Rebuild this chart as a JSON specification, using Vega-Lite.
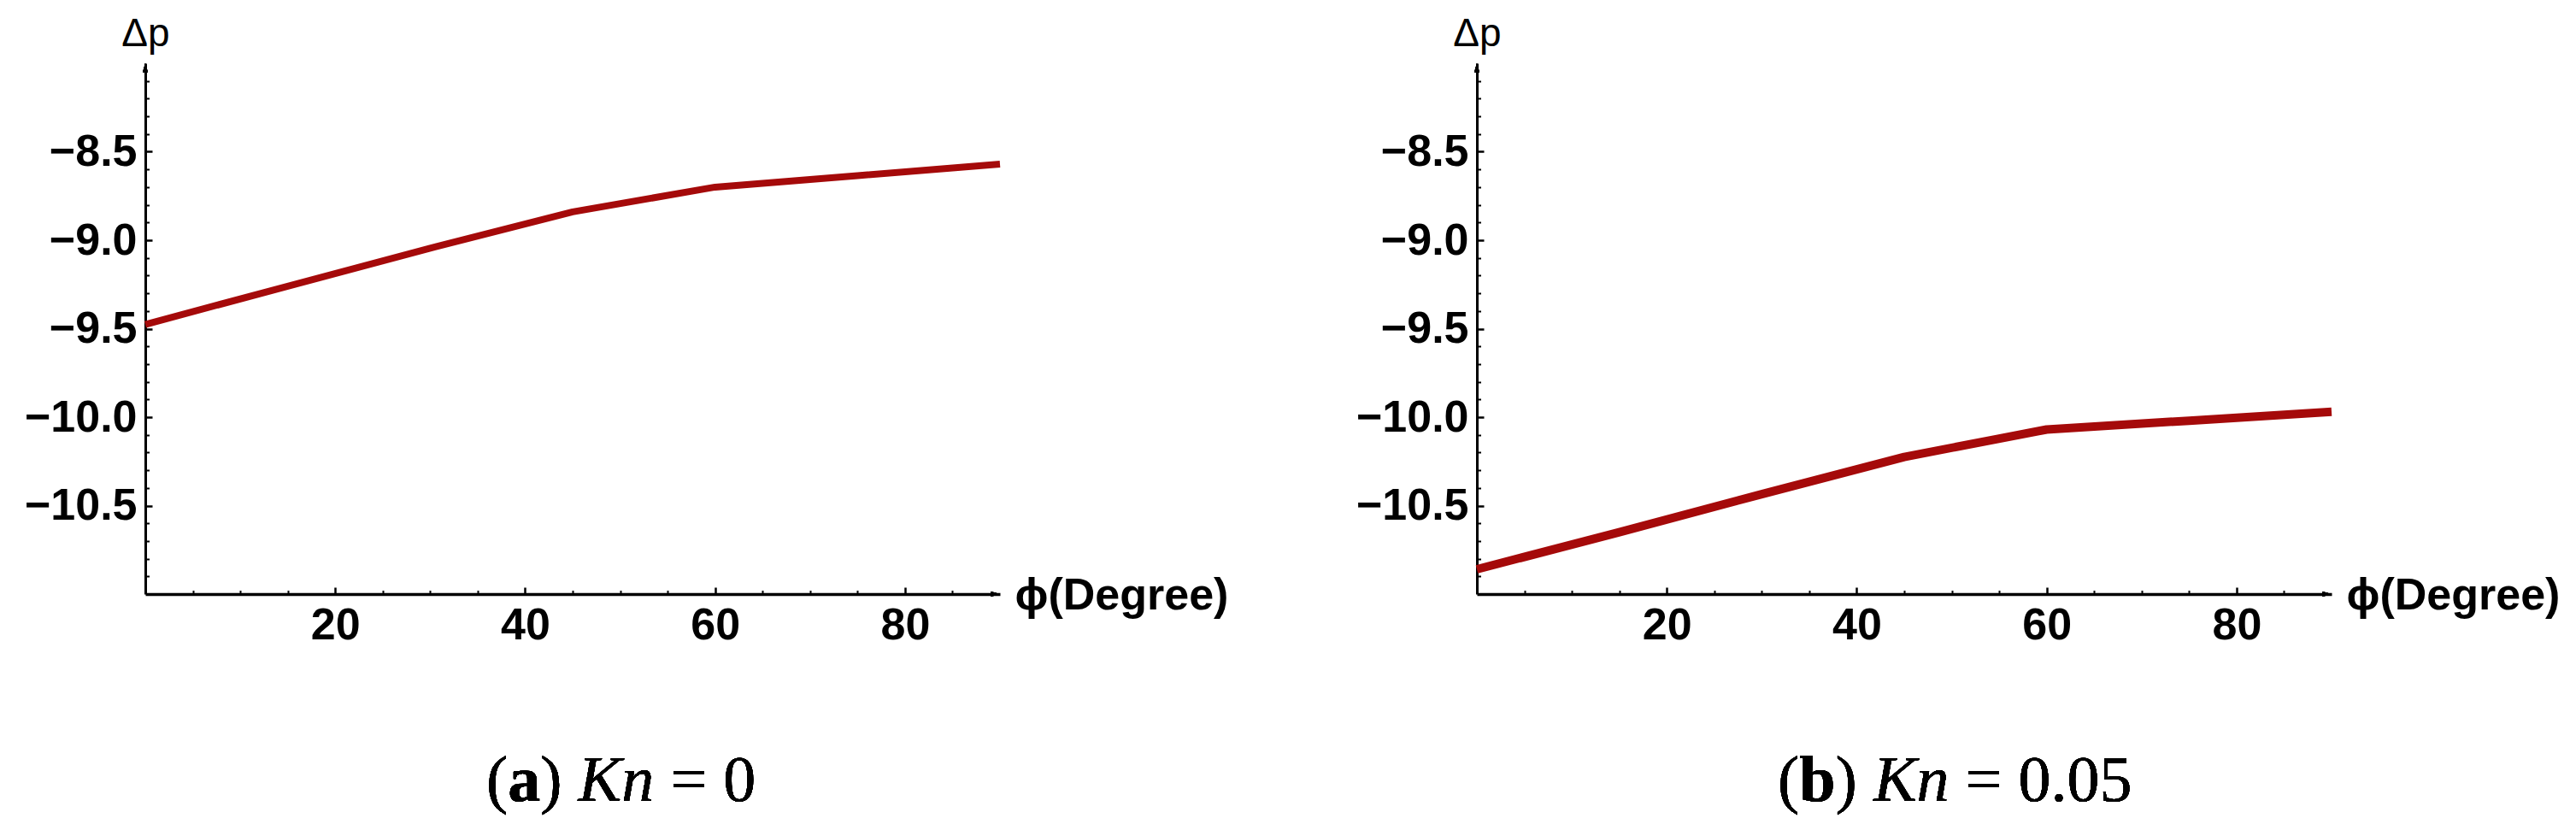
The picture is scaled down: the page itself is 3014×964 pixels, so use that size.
{
  "$schema": "https://vega.github.io/schema/vega-lite/v6.json",
  "autosize": {"type": "none"},
  "padding": {"left": 170, "top": 74, "right": 2844, "bottom": 890},
  "background": "white",
  "datasets": {
    "kn0": [
      {"phi": 0, "dp": -9.476},
      {"phi": 15, "dp": -9.26},
      {"phi": 30, "dp": -9.045},
      {"phi": 45, "dp": -8.84},
      {"phi": 60, "dp": -8.70},
      {"phi": 75, "dp": -8.635},
      {"phi": 90, "dp": -8.57}
    ],
    "kn005": [
      {"phi": 0, "dp": -10.86},
      {"phi": 15, "dp": -10.65},
      {"phi": 30, "dp": -10.435},
      {"phi": 45, "dp": -10.225},
      {"phi": 60, "dp": -10.07},
      {"phi": 75, "dp": -10.02},
      {"phi": 90, "dp": -9.97}
    ]
  },
  "spacing": 558,
  "bounds": "flush",
  "config": {
    "view": {"stroke": null},
    "axis": {
      "grid": false,
      "labelFont": "Liberation Sans",
      "labelFontWeight": "bold",
      "labelFontSize": 52,
      "labelColor": "black",
      "domainColor": "black",
      "tickColor": "black",
      "labelFlush": false,
      "labelOverlap": false,
      "titleColor": "black",
      "titleFont": "Liberation Sans"
    }
  },
  "hconcat": [
    {
      "width": 1000,
      "height": 621,
      "data": {"name": "kn0"},
      "resolve": {"axis": {"x": "independent", "y": "independent"}},
      "layer": [
        {
          "mark": {"type": "line", "color": "#a50a0a", "strokeWidth": 8, "strokeCap": "butt", "strokeJoin": "round"},
          "encoding": {
            "x": {"field": "phi", "type": "quantitative", "scale": {"domain": [0, 90], "nice": false, "zero": false},
              "axis": {"orient": "bottom", "values": [20, 40, 60, 80], "tickSize": -8, "tickWidth": 2.5, "labelPadding": 19, "domainWidth": 3.5,
                "title": "ϕ(Degree)", "titleX": 1017, "titleY": 17, "titleAlign": "left", "titleBaseline": "alphabetic", "titleAngle": 0, "titleFontWeight": "bold", "titleFontSize": 52}},
            "y": {"field": "dp", "type": "quantitative", "scale": {"domain": [-11, -8], "nice": false, "zero": false},
              "axis": {"orient": "left", "values": [-10.5, -10, -9.5, -9, -8.5], "format": ".1f", "tickSize": -8, "tickWidth": 2.5, "labelPadding": 18, "domainWidth": 3,
                "title": "Δp", "titleAngle": 0, "titleX": 0, "titleY": -21, "titleAlign": "center", "titleBaseline": "alphabetic", "titleFontWeight": "normal", "titleFontSize": 46}}
          }
        },
        {
          "mark": {"type": "point", "shape": "M0,0L0.5,1.8L-0.5,1.8Z", "size": 144, "filled": true, "fill": "black", "strokeWidth": 0, "opacity": 1},
          "encoding": {
            "x": {"datum": 0, "type": "quantitative", "scale": {"domain": [0, 90], "nice": false, "zero": false},
              "axis": {"orient": "bottom", "values": [5, 10, 15, 25, 30, 35, 45, 50, 55, 65, 70, 75, 85], "labels": false, "domain": false, "tickSize": -4.5, "tickWidth": 2, "title": null}},
            "y": {"datum": -8, "type": "quantitative", "scale": {"domain": [-11, -8], "nice": false, "zero": false},
              "axis": {"orient": "left", "values": [-10.9, -10.8, -10.7, -10.6, -10.4, -10.3, -10.2, -10.1, -9.9, -9.8, -9.7, -9.6, -9.4, -9.3, -9.2, -9.1, -8.9, -8.8, -8.7, -8.6, -8.4, -8.3, -8.2, -8.1], "labels": false, "domain": false, "tickSize": -4.5, "tickWidth": 2, "title": null}}
          }
        },
        {
          "mark": {"type": "point", "shape": "M0,0L-1.8,0.5L-1.8,-0.5Z", "size": 144, "filled": true, "fill": "black", "strokeWidth": 0, "opacity": 1},
          "encoding": {
            "x": {"datum": 90, "type": "quantitative", "axis": null},
            "y": {"datum": -11, "type": "quantitative", "axis": null}
          }
        },
        {
          "mark": {"type": "text", "text": "(", "font": "Liberation Serif", "fontSize": 76, "align": "left", "baseline": "alphabetic", "color": "black"},
          "encoding": {"x": {"datum": 35.91, "type": "quantitative", "axis": null}, "y": {"datum": -12.17, "type": "quantitative", "axis": null}}
        },
        {
          "mark": {"type": "text", "text": "a", "font": "Liberation Serif", "fontWeight": "bold", "fontSize": 76, "align": "left", "baseline": "alphabetic", "color": "black"},
          "encoding": {"x": {"datum": 38.19, "type": "quantitative", "axis": null}, "y": {"datum": -12.17, "type": "quantitative", "axis": null}}
        },
        {
          "mark": {"type": "text", "text": ")", "font": "Liberation Serif", "fontSize": 76, "align": "left", "baseline": "alphabetic", "color": "black"},
          "encoding": {"x": {"datum": 41.61, "type": "quantitative", "axis": null}, "y": {"datum": -12.17, "type": "quantitative", "axis": null}}
        },
        {
          "mark": {"type": "text", "text": "Kn", "font": "Liberation Serif", "fontStyle": "italic", "fontSize": 76, "align": "left", "baseline": "alphabetic", "color": "black"},
          "encoding": {"x": {"datum": 45.59, "type": "quantitative", "axis": null}, "y": {"datum": -12.17, "type": "quantitative", "axis": null}}
        },
        {
          "mark": {"type": "text", "text": "= 0", "font": "Liberation Serif", "fontSize": 76, "align": "left", "baseline": "alphabetic", "color": "black"},
          "encoding": {"x": {"datum": 55.29, "type": "quantitative", "axis": null}, "y": {"datum": -12.17, "type": "quantitative", "axis": null}}
        }
      ]
    },
    {
      "width": 1000,
      "height": 621,
      "data": {"name": "kn005"},
      "resolve": {"axis": {"x": "independent", "y": "independent"}},
      "layer": [
        {
          "mark": {"type": "line", "color": "#a50a0a", "strokeWidth": 10, "strokeCap": "butt", "strokeJoin": "round"},
          "encoding": {
            "x": {"field": "phi", "type": "quantitative", "scale": {"domain": [0, 90], "nice": false, "zero": false},
              "axis": {"orient": "bottom", "values": [20, 40, 60, 80], "tickSize": -8, "tickWidth": 2.5, "labelPadding": 19, "domainWidth": 3.5,
                "title": "ϕ(Degree)", "titleX": 1017, "titleY": 17, "titleAlign": "left", "titleBaseline": "alphabetic", "titleAngle": 0, "titleFontWeight": "bold", "titleFontSize": 52}},
            "y": {"field": "dp", "type": "quantitative", "scale": {"domain": [-11, -8], "nice": false, "zero": false},
              "axis": {"orient": "left", "values": [-10.5, -10, -9.5, -9, -8.5], "format": ".1f", "tickSize": -8, "tickWidth": 2.5, "labelPadding": 18, "domainWidth": 3,
                "title": "Δp", "titleAngle": 0, "titleX": 0, "titleY": -21, "titleAlign": "center", "titleBaseline": "alphabetic", "titleFontWeight": "normal", "titleFontSize": 46}}
          }
        },
        {
          "mark": {"type": "point", "shape": "M0,0L0.5,1.8L-0.5,1.8Z", "size": 144, "filled": true, "fill": "black", "strokeWidth": 0, "opacity": 1},
          "encoding": {
            "x": {"datum": 0, "type": "quantitative", "scale": {"domain": [0, 90], "nice": false, "zero": false},
              "axis": {"orient": "bottom", "values": [5, 10, 15, 25, 30, 35, 45, 50, 55, 65, 70, 75, 85], "labels": false, "domain": false, "tickSize": -4.5, "tickWidth": 2, "title": null}},
            "y": {"datum": -8, "type": "quantitative", "scale": {"domain": [-11, -8], "nice": false, "zero": false},
              "axis": {"orient": "left", "values": [-10.9, -10.8, -10.7, -10.6, -10.4, -10.3, -10.2, -10.1, -9.9, -9.8, -9.7, -9.6, -9.4, -9.3, -9.2, -9.1, -8.9, -8.8, -8.7, -8.6, -8.4, -8.3, -8.2, -8.1], "labels": false, "domain": false, "tickSize": -4.5, "tickWidth": 2, "title": null}}
          }
        },
        {
          "mark": {"type": "point", "shape": "M0,0L-1.8,0.5L-1.8,-0.5Z", "size": 144, "filled": true, "fill": "black", "strokeWidth": 0, "opacity": 1},
          "encoding": {
            "x": {"datum": 90, "type": "quantitative", "axis": null},
            "y": {"datum": -11, "type": "quantitative", "axis": null}
          }
        },
        {
          "mark": {"type": "text", "text": "(", "font": "Liberation Serif", "fontSize": 76, "align": "left", "baseline": "alphabetic", "color": "black"},
          "encoding": {"x": {"datum": 31.68, "type": "quantitative", "axis": null}, "y": {"datum": -12.17, "type": "quantitative", "axis": null}}
        },
        {
          "mark": {"type": "text", "text": "b", "font": "Liberation Serif", "fontWeight": "bold", "fontSize": 76, "align": "left", "baseline": "alphabetic", "color": "black"},
          "encoding": {"x": {"datum": 33.96, "type": "quantitative", "axis": null}, "y": {"datum": -12.17, "type": "quantitative", "axis": null}}
        },
        {
          "mark": {"type": "text", "text": ")", "font": "Liberation Serif", "fontSize": 76, "align": "left", "baseline": "alphabetic", "color": "black"},
          "encoding": {"x": {"datum": 37.76, "type": "quantitative", "axis": null}, "y": {"datum": -12.17, "type": "quantitative", "axis": null}}
        },
        {
          "mark": {"type": "text", "text": "Kn", "font": "Liberation Serif", "fontStyle": "italic", "fontSize": 76, "align": "left", "baseline": "alphabetic", "color": "black"},
          "encoding": {"x": {"datum": 41.75, "type": "quantitative", "axis": null}, "y": {"datum": -12.17, "type": "quantitative", "axis": null}}
        },
        {
          "mark": {"type": "text", "text": "= 0.05", "font": "Liberation Serif", "fontSize": 76, "align": "left", "baseline": "alphabetic", "color": "black"},
          "encoding": {"x": {"datum": 51.44, "type": "quantitative", "axis": null}, "y": {"datum": -12.17, "type": "quantitative", "axis": null}}
        }
      ]
    }
  ]
}
